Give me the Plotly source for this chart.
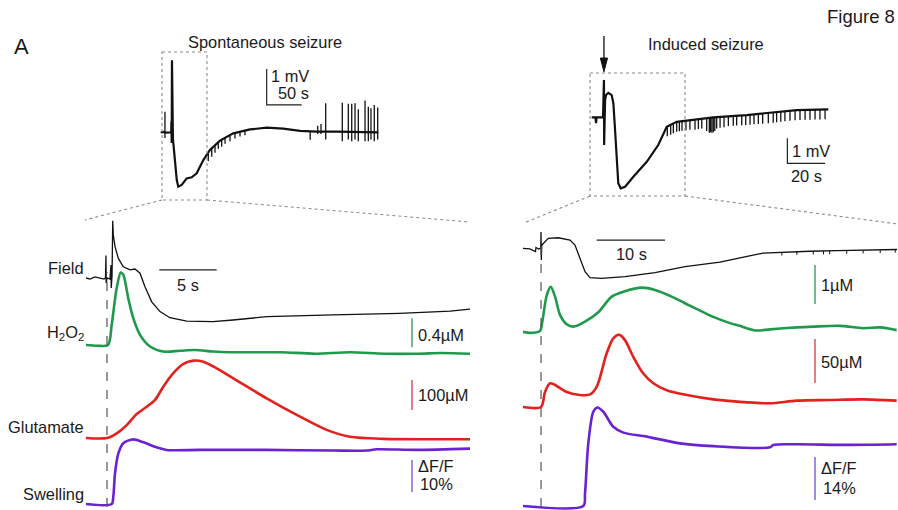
import plotly.graph_objects as go

W, H = 898, 510

# ---------------- DATA ----------------
# Overview, spontaneous seizure (time s, field mV)
OVL_T = [0, 4.7, 7.6, 15.0, 15.3, 15.7, 16.1, 16.7, 17.5, 18.3, 20.4, 22.9, 25.1, 30.0, 37.1, 44.3,
         51.4, 60.9, 70.4, 84.7, 103.7, 127.6, 151.4, 175.1, 199.0, 222.9, 251.4, 280.0, 310.9]
OVL_MV = [0, 0.01, -0.01, 0, 0.3, -0.3, 2.0, 0.0, -0.2, -0.35, -0.77, -1.32, -1.51, -1.46, -1.28, -1.25,
          -1.14, -0.77, -0.49, -0.23, -0.03, 0.08, 0.13, 0.10, 0.04, 0.02, 0.02, 0.01, 0]
# spikes / ticks on the overview: (time, low mV, high mV)
OVL_SPIKES = [(6.1, -0.16, 0.57), (68.0, -0.8, -0.6), (72.9, -0.68, -0.45), (77.6, -0.57, -0.37),
              (82.3, -0.46, -0.28), (87.1, -0.4, -0.2), (91.9, -0.32, -0.15), (99.0, -0.25, -0.08),
              (106.1, -0.17, -0.02), (113.3, -0.12, 0.03), (120.4, -0.08, 0.06),
              (213.6, -0.21, 0.02), (224.3, -0.05, 0.18), (229.0, -0.05, 0.23), (235.7, -0.2, 0.81),
              (259.4, -0.25, 0.82), (268.0, -0.2, 0.79), (272.9, -0.25, 0.79), (277.6, -0.2, 0.81),
              (282.3, -0.25, 0.64), (291.9, -0.25, 0.88), (296.6, -0.25, 0.71), (300.4, -0.2, 0.67),
              (305.1, -0.25, 0.76), (310.0, -0.2, 0.69)]

# Overview, induced seizure (time s, field mV)
OVR_T = [0, 2.0, 2.3, 2.6, 6.0, 6.5, 6.6, 7.1, 7.6, 8.8, 10.6, 11.5, 12.4, 13.3, 14.1, 15.4, 17.7,
         22.1, 29.2, 35.3, 38.0, 39.8, 45.1, 55.7, 64.5, 82.2, 99.9, 108.8, 125.5]
OVR_MV = [0, 0, -0.23, 0, 0, 1.49, -1.11, 0.69, 0.89, 0.98, 0.89, 0.56, -0.51, -1.84, -2.64, -2.84,
          -2.78, -2.38, -1.78, -1.11, -0.64, -0.38, -0.18, -0.08, 0, 0.09, 0.22, 0.29, 0.32]
OVR_TICKS = [(40.1, -0.76, -0.36), (41.9, -0.7, -0.3), (43.3, -0.64, -0.24), (45.1, -0.58, -0.18),
             (46.5, -0.56, -0.16), (47.9, -0.54, -0.14), (50.0, -0.52, -0.12), (52.1, -0.5, -0.1),
             (54.8, -0.5, -0.08), (56.6, -0.47, -0.07), (58.4, -0.45, -0.05), (61.0, -0.55, -0.03),
             (62.4, -0.62, -0.02), (63.1, -0.6, -0.02), (63.8, -0.62, -0.01), (64.5, -0.6, 0),
             (65.3, -0.55, 0), (66.3, -0.45, 0.01), (68.1, -0.42, 0.02), (70.2, -0.4, 0.03),
             (72.5, -0.35, 0.05), (75.1, -0.34, 0.06), (76.9, -0.33, 0.07), (79.6, -0.32, 0.08),
             (81.7, -0.31, 0.09), (84.0, -0.3, 0.1), (86.1, -0.28, 0.12), (88.4, -0.27, 0.13),
             (90.7, -0.26, 0.14), (93.7, -0.24, 0.16), (96.3, -0.22, 0.18), (98.1, -0.2, 0.2),
             (100.3, -0.18, 0.22), (102.5, -0.16, 0.24), (105.2, -0.14, 0.26), (107.9, -0.12, 0.28),
             (110.5, -0.11, 0.29), (113.2, -0.1, 0.3), (115.8, -0.1, 0.3), (118.5, -0.09, 0.31),
             (121.1, -0.09, 0.31), (123.8, -0.08, 0.32)]

# Expanded spontaneous seizure (time s)
SL_FIELD_T = [0, 0.35, 0.78, 1.22, 1.57, 1.70, 1.74, 1.76, 1.83, 2.09, 2.18, 2.20, 2.27, 2.33, 2.38,
              2.53, 2.82, 3.25, 3.84, 4.27, 4.71, 5.14, 5.73, 6.45, 7.32, 8.78, 11.07, 12.82, 14.3,
              15.78, 21.53, 27.33, 31.74, 33.48]
SL_FIELD = [0, -0.04, 0.04, -0.02, -0.04, 0, 0.8, -0.18, 0, -0.04, 0.46, -0.36, 0.07, 2.04, 1.54,
            1.12, 0.7, 0.4, 0.29, 0.32, 0.17, -0.31, -0.85, -1.2, -1.42, -1.54, -1.56, -1.5, -1.44,
            -1.38, -1.32, -1.26, -1.18, -1.11]
SL_H2O2_T = [0, 1.0, 1.92, 2.24, 2.68, 3.03, 3.25, 3.69, 4.12, 4.71, 5.58, 6.74, 8.2, 9.5, 11.07,
             12.5, 14.3, 17.0, 20.0, 23.0, 26.0, 29.0, 31.0, 33.48]
SL_H2O2 = [0, -0.01, 0, 0.28, 0.79, 1.0, 0.97, 0.64, 0.37, 0.14, -0.02, -0.09, -0.08, -0.07, -0.09,
           -0.1, -0.1, -0.1, -0.12, -0.1, -0.12, -0.12, -0.11, -0.12]
SL_GLU_T = [0, 1.83, 2.68, 3.55, 4.42, 5.29, 6.02, 6.74, 7.61, 8.49, 9.36, 10.23, 11.39, 12.84,
            15.75, 18.66, 20.98, 23.02, 25.92, 33.48]
SL_GLU = [0, 0, 15.6, 43, 80, 104, 127, 171, 216, 247, 258, 254, 232, 199, 132, 71, 27, 4, -3, -4]
SL_SWELL_T = [0, 2.24, 2.38, 2.53, 2.82, 3.25, 4.12, 5.0, 6.16, 7.03, 9.94, 15.75, 21.56, 24.47,
              25.34, 28.83, 33.48]
SL_SWELL = [0, 0, 2.3, 9.6, 15.8, 19.0, 20.2, 19.3, 17.7, 16.9, 16.9, 16.9, 16.7, 16.7, 17.1, 16.9, 17.3]

# Expanded induced seizure (time s)
IR_FIELD_T = [0, 1.0, 1.83, 1.9, 2.3, 2.6, 2.64, 2.68, 2.75, 3.22, 3.7, 5.17, 6.88, 7.61, 8.35, 9.08,
              9.81, 11.52, 14.93, 19.33, 23.72, 28.84, 35.14, 38.0, 42.0, 46.0, 50.0, 54.76]
IR_FIELD = [0, -0.06, -0.3, 0.07, -0.06, 0.03, 1.48, -1.06, 0.3, 0.6, 0.91, 0.96, 0.75, 0.3, -0.91,
            -2.13, -2.67, -2.73, -2.58, -2.22, -1.67, -1.25, -0.43, -0.35, -0.27, -0.21, -0.16, -0.11]
IR_FIELD_TICKS = [(37.9, -0.65, -0.35), (40.1, -0.6, -0.3), (42.5, -0.57, -0.27), (44.0, -0.55, -0.25),
                  (44.9, -0.54, -0.24), (47.4, -0.5, -0.2), (49.8, -0.47, -0.17), (52.3, -0.43, -0.13),
                  (54.5, -0.4, -0.1)]
IR_H2O2_T = [0, 1.0, 2.49, 2.83, 3.48, 4.07, 4.69, 5.42, 6.4, 7.37, 9.08, 11.03, 12.99, 14.93, 17.38,
             19.33, 21.77, 23.72, 27.86, 30.31, 31.77, 32.75, 34.22, 36.16, 40.07, 42.5, 46.41, 49.83,
             52.27, 54.71]
IR_H2O2 = [0, -0.03, 0.02, 0.26, 0.94, 1.15, 0.9, 0.43, 0.19, 0.13, 0.26, 0.5, 0.9, 1.04, 1.13, 1.07,
           0.9, 0.73, 0.38, 0.22, 0.15, 0.09, 0.03, 0.06, 0.11, 0.13, 0.15, 0.09, 0.11, 0.04]
IR_GLU_T = [0, 2.64, 3.22, 3.95, 4.69, 6.4, 8.35, 9.81, 10.79, 12.25, 13.22, 14.1, 14.93, 16.15, 17.61,
            19.08, 21.04, 23.97, 27.86, 32.75, 36.16, 40.07, 44.95, 49.83, 54.71]
IR_GLU = [0, 0, 17, 27, 25, 17, 13.6, 14.4, 23, 61, 78, 82, 76, 57, 38, 27, 19, 13.6, 8.7, 5.3, 4.2,
          7.2, 8, 8.7, 7.2]
IR_SWELL_T = [0, 8.83, 9.08, 9.56, 10.29, 10.88, 11.76, 13.22, 14.69, 18.11, 22.99, 27.86, 36.16,
              36.65, 40.07, 47.39, 54.71]
IR_SWELL = [0, 0, 4.1, 20.4, 30.7, 32.1, 30.7, 25.8, 23.9, 22.6, 20.4, 19.5, 19.1, 19.9, 20.1, 19.9, 20.1]

# Scale bars (in data units)
SB_OVL = dict(t=151.4, dt=50, v=0.76, dv=1)      # 1 mV, 50 s
SB_OVR = dict(t=103.8, dt=20, v=-1.84, dv=1)     # 1 mV, 20 s
SB_SL_TIME = dict(t=6.39, dt=5, v=0.29)          # 5 s
SB_IR_TIME = dict(t=10.79, dt=10, v=0.75)        # 10 s
SB_SL = dict(t=28.42, h2o2=(-0.03, 0.4), glu=(93, 100), swell=(3.75, 10))
SB_IR = dict(t=42.75, h2o2=(0.71, 1.0), glu=(27.3, 50), swell=(1.95, 14))
ONSET_SL, ONSET_IR = 1.83, 2.64
STIM_T = 6.5   # arrow on induced overview (s)

BLACK, GREEN, RED, PURPLE = "#111111", "#1f9a4c", "#e3211d", "#6a22d2"
GREEN_B, RED_B, PURPLE_B = "#3b9d5e", "#d8494c", "#7c5bd6"
FONT = "Liberation Sans, Arial, sans-serif"

# ---------------- LAYOUT HELPERS ----------------
fig = go.Figure()
layout_axes = {}


def make_x(n, px0, px1, ref_px, px_per_unit):
    # time 0 sits at ref_px
    key = "xaxis" if n == 1 else f"xaxis{n}"
    layout_axes[key] = dict(domain=[px0 / W, px1 / W],
                            range=[(px0 - ref_px) / px_per_unit, (px1 - ref_px) / px_per_unit],
                            visible=False, fixedrange=True, anchor="y")


def make_y(n, top, bot, base_px, px_per_unit):
    key = "yaxis" if n == 1 else f"yaxis{n}"
    layout_axes[key] = dict(domain=[1 - bot / H, 1 - top / H],
                            range=[(base_px - bot) / px_per_unit, (base_px - top) / px_per_unit],
                            visible=False, fixedrange=True, anchor="x")


make_x(1, 150, 390, 160.7, 0.7)
make_x(2, 580, 840, 591.7, 1.885)
make_x(3, 78, 482, 86, 11.47)
make_x(4, 512, 898, 523, 6.83)

make_y(1, 25, 210, 132.3, 36)
make_y(2, 25, 200, 117.3, 25)
make_y(3, 212, 335, 278, 28)
make_y(4, 255, 370, 345, 72.5)
make_y(5, 345, 455, 438, 0.3)
make_y(6, 425, 510, 504, 3.2)
make_y(7, 222, 295, 248.3, 11)
make_y(8, 250, 350, 331.7, 39)
make_y(9, 320, 420, 407, 0.88)
make_y(10, 390, 510, 506, 3.07)


def line(x, y, xa, ya, color, width, shape="linear"):
    fig.add_trace(go.Scatter(x=x, y=y, xaxis=xa, yaxis=ya, mode="lines",
                             line=dict(color=color, width=width, shape=shape, smoothing=0.8),
                             hoverinfo="skip", showlegend=False, cliponaxis=False))


def segments(items, xa, ya, color, width):
    xs, ys = [], []
    for t, lo, hi in items:
        xs += [t, t, None]
        ys += [hi, lo, None]
    line(xs, ys, xa, ya, color, width)


# ---------------- TRACES ----------------
line(OVL_T, OVL_MV, "x", "y", BLACK, 2.2)
segments(OVL_SPIKES, "x", "y", BLACK, 1.3)
line(OVR_T, OVR_MV, "x2", "y2", BLACK, 2.2)
segments(OVR_TICKS, "x2", "y2", BLACK, 1.3)

line(SL_FIELD_T, SL_FIELD, "x3", "y3", BLACK, 1.3)
line(SL_H2O2_T, SL_H2O2, "x3", "y4", GREEN, 2.6, "spline")
line(SL_GLU_T, SL_GLU, "x3", "y5", RED, 2.6, "spline")
line(SL_SWELL_T, SL_SWELL, "x3", "y6", PURPLE, 2.6, "spline")

line(IR_FIELD_T, IR_FIELD, "x4", "y7", BLACK, 1.3)
segments(IR_FIELD_TICKS, "x4", "y7", BLACK, 1.0)
line(IR_H2O2_T, IR_H2O2, "x4", "y8", GREEN, 2.6, "spline")
line(IR_GLU_T, IR_GLU, "x4", "y9", RED, 2.6, "spline")
line(IR_SWELL_T, IR_SWELL, "x4", "y10", PURPLE, 2.6, "spline")

# scale bars
s = SB_OVL
line([s["t"], s["t"], s["t"] + s["dt"]], [s["v"] + s["dv"], s["v"], s["v"]], "x", "y", "#222", 1.2)
s = SB_OVR
line([s["t"], s["t"], s["t"] + s["dt"]], [s["v"] + s["dv"], s["v"], s["v"]], "x2", "y2", "#222", 1.2)
s = SB_SL_TIME
line([s["t"], s["t"] + s["dt"]], [s["v"], s["v"]], "x3", "y3", "#222", 1.3)
s = SB_IR_TIME
line([s["t"], s["t"] + s["dt"]], [s["v"], s["v"]], "x4", "y7", "#222", 1.3)
for sb, xa, yas in [(SB_SL, "x3", ("y4", "y5", "y6")), (SB_IR, "x4", ("y8", "y9", "y10"))]:
    for key, ya, col in zip(("h2o2", "glu", "swell"), yas, (GREEN_B, RED_B, PURPLE_B)):
        v0, dv = sb[key]
        line([sb["t"], sb["t"]], [v0, v0 + dv], xa, ya, col, 1.4)

# stimulation arrow (shaft + head) in the induced overview's axes
line([STIM_T, STIM_T], [3.25, 2.2], "x2", "y2", BLACK, 1.3)
fig.add_trace(go.Scatter(x=[STIM_T - 1.9, STIM_T + 1.9, STIM_T, STIM_T - 1.9],
                         y=[2.37, 2.37, 1.82, 2.37], xaxis="x2", yaxis="y2", mode="lines",
                         fill="toself", fillcolor=BLACK, line=dict(color=BLACK, width=1),
                         hoverinfo="skip", showlegend=False, cliponaxis=False))

# ---------------- SHAPES ----------------
shapes = []


def pshape(x0, y0, x1, y1, **kw):
    shapes.append(dict(type=kw.pop("type", "line"), xref="paper", yref="paper",
                       x0=x0 / W, x1=x1 / W, y0=1 - y0 / H, y1=1 - y1 / H, **kw))


dot = dict(color="#8a8a8a", width=1.1, dash="dot")
pshape(162, 52, 207, 200, type="rect", line=dot)
pshape(162, 200, 85, 220, line=dot)
pshape(207, 200, 470, 222, line=dot)
pshape(590, 73, 685, 196, type="rect", line=dot)
pshape(590, 196, 524, 223, line=dot)
pshape(685, 196, 898, 224, line=dot)

dash = dict(color="#555555", width=1.2, dash="dash")
shapes.append(dict(type="line", xref="x3", yref="paper", x0=ONSET_SL, x1=ONSET_SL,
                   y0=1 - 507 / H, y1=1 - 272 / H, line=dash))
shapes.append(dict(type="line", xref="x4", yref="paper", x0=ONSET_IR, x1=ONSET_IR,
                   y0=1 - 507 / H, y1=1 - 236 / H, line=dash))

# ---------------- TEXT ----------------
ann = []
FS = 16.4


def text(xp, yp, s, size=FS, xanchor="left"):
    ann.append(dict(x=xp / W, y=1 - yp / H, xref="paper", yref="paper", text=s, showarrow=False,
                    xanchor=xanchor, yanchor="middle", font=dict(family=FONT, size=size, color="#1a1a1a")))


text(12, 46, "A", 22)
text(897, 17, "Figure 8", 18.5, xanchor="right")
text(265, 42, "Spontaneous seizure", xanchor="center")
text(706, 44, "Induced seizure", xanchor="center")
text(269, 76, "1 mV")
text(276, 93, "50 s")
text(790, 151, "1 mV")
text(789, 176, "20 s")
text(86, 268, "Field", xanchor="right")
text(86, 333, "H<sub>2</sub>O<sub>2</sub>", xanchor="right")
text(86, 427, "Glutamate", xanchor="right")
text(86, 494, "Swelling", xanchor="right")
text(188, 285, "5 s", xanchor="center")
text(416, 335, "0.4µM")
text(416, 395, "100µM")
text(416, 466, "ΔF/F")
text(418, 484, "10%")
text(631, 254, "10 s", xanchor="center")
text(819, 285, "1µM")
text(819, 362, "50µM")
text(819, 468, "ΔF/F")
text(821, 488, "14%")

fig.update_layout(width=W, height=H, margin=dict(l=0, r=0, t=0, b=0), autosize=False,
                  paper_bgcolor="white", plot_bgcolor="rgba(0,0,0,0)",
                  shapes=shapes, annotations=ann, showlegend=False, **layout_axes)
fig.write_html("out.html", config={"displayModeBar": False})
